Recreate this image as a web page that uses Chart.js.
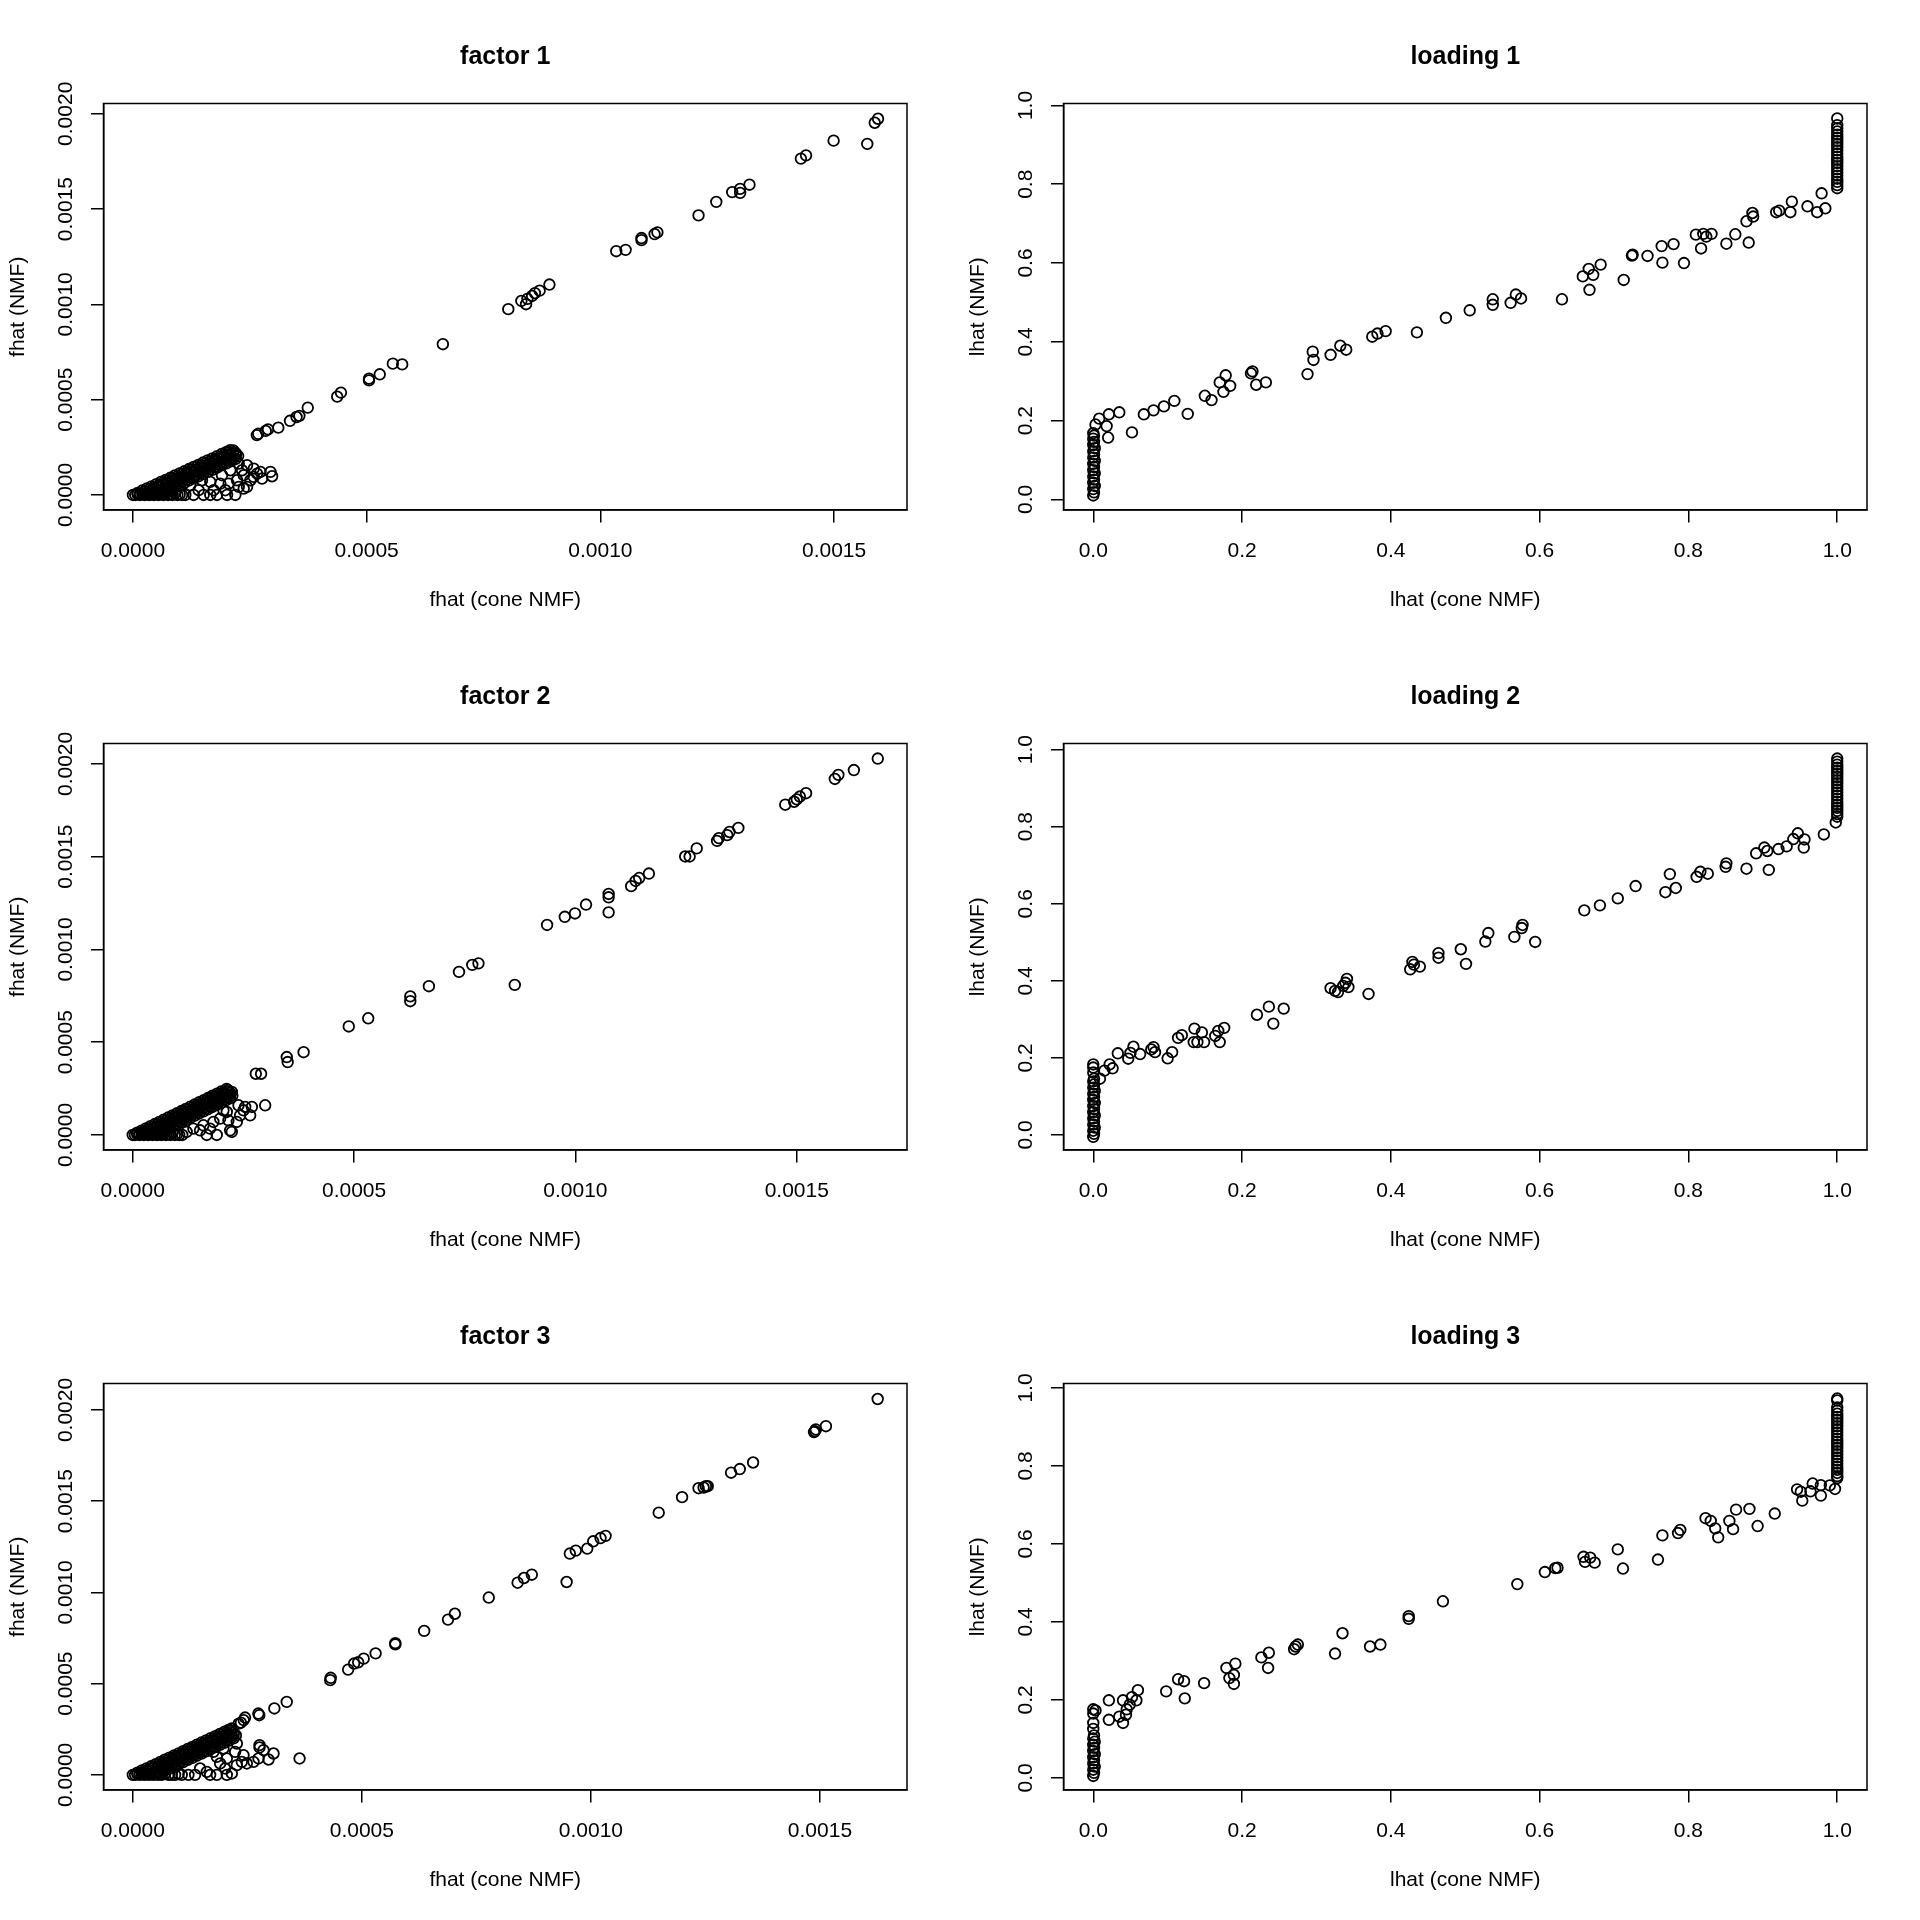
<!DOCTYPE html>
<html>
<head>
<meta charset="utf-8">
<script src="https://cdn.jsdelivr.net/npm/chart.js@4.4.0/dist/chart.umd.min.js"></script>
<style>
  html, body { margin: 0; padding: 0; background: #fff; }
  #wrap { position: relative; width: 1920px; height: 1920px; background: #fff; }
  canvas { position: absolute; }
</style>
</head>
<body>
<div id="wrap">
  <canvas id="c1" width="960" height="640" style="left:0;top:0"></canvas>
  <canvas id="c2" width="960" height="640" style="left:960px;top:0"></canvas>
  <canvas id="c3" width="960" height="640" style="left:0;top:640px"></canvas>
  <canvas id="c4" width="960" height="640" style="left:960px;top:640px"></canvas>
  <canvas id="c5" width="960" height="640" style="left:0;top:1280px"></canvas>
  <canvas id="c6" width="960" height="640" style="left:960px;top:1280px"></canvas>
</div>
<script>
// ---------------- DATA ----------------
const titles = ["factor 1", "loading 1", "factor 2", "loading 2", "factor 3", "loading 3"];
const factorXLabel = "fhat (cone NMF)";
const factorYLabel = "fhat (NMF)";
const loadingXLabel = "lhat (cone NMF)";
const loadingYLabel = "lhat (NMF)";

const factorXTicks = [0, 0.0005, 0.0010, 0.0015];
const factorYTicks = [0, 0.0005, 0.0010, 0.0015, 0.0020];
const loadingTicks = [0, 0.2, 0.4, 0.6, 0.8, 1.0];

const f1XLim = [-6.3e-5, 1.656e-3], f1YLim = [-7.9e-5, 2.054e-3];
const f2XLim = [-6.6e-5, 1.749e-3], f2YLim = [-8.1e-5, 2.110e-3];
const f3XLim = [-6.4e-5, 1.690e-3], f3YLim = [-8.3e-5, 2.145e-3];
const lXLim = [-0.04, 1.04];
const l1YLim = [-0.027, 1.005], l2YLim = [-0.039, 1.016], l3YLim = [-0.031, 1.0115];

// factor 1 : [fhat cone NMF, fhat NMF]
const factor1 = [
  [1.594e-3,1.974e-3],[1.587e-3,1.953e-3],[1.499e-3,1.859e-3],[1.571e-3,1.842e-3],[1.429e-3,1.765e-3],[1.440e-3,1.782e-3],
  [1.319e-3,1.628e-3],[1.299e-3,1.606e-3],[1.299e-3,1.585e-3],[1.282e-3,1.589e-3],[1.248e-3,1.538e-3],[1.210e-3,1.467e-3],
  [1.122e-3,1.378e-3],[1.116e-3,1.369e-3],[1.088e-3,1.348e-3],[1.088e-3,1.337e-3],[1.054e-3,1.286e-3],[1.034e-3,1.279e-3],
  [8.91e-4,1.104e-3],[8.70e-4,1.072e-3],[8.60e-4,1.059e-3],[8.54e-4,1.044e-3],[8.44e-4,1.029e-3],[8.31e-4,1.018e-3],[8.41e-4,1.001e-3],
  [8.03e-4,9.75e-4],[6.63e-4,7.91e-4],[5.76e-4,6.85e-4],[5.56e-4,6.89e-4],[5.28e-4,6.33e-4],[5.05e-4,6.10e-4],[5.05e-4,6.01e-4],
  [4.45e-4,5.37e-4],[4.37e-4,5.16e-4],[3.74e-4,4.58e-4],[3.56e-4,4.15e-4],[3.50e-4,4.09e-4],[3.36e-4,3.89e-4],[3.11e-4,3.53e-4],
  [2.89e-4,3.44e-4],[2.84e-4,3.36e-4],[2.68e-4,3.21e-4],[2.65e-4,3.14e-4],
  [2.263e-4,1.646e-4],[2.441e-4,1.558e-4],[2.584e-4,1.383e-4],[2.727e-4,1.209e-4],[2.942e-4,1.209e-4],[2.977e-4,9.81e-5],
  [2.763e-4,8.59e-5],[2.584e-4,9.46e-5],[2.370e-4,1.034e-4],[2.084e-4,1.296e-4],[1.905e-4,1.034e-4],[1.870e-4,5.96e-5],
  [2.048e-4,5.96e-5],[2.227e-4,7.71e-5],[2.370e-4,3.34e-5],[2.191e-4,0],[2.013e-4,0],[1.798e-4,0],[1.655e-4,0],[1.512e-4,0],
  [1.405e-4,2.47e-5],[1.298e-4,0],[1.226e-4,5.09e-5],[1.477e-4,7.71e-5],[1.655e-4,6.84e-5],[2.513e-4,7.71e-5],[2.441e-4,4.21e-5],
  [2.656e-4,1.121e-4],[2.334e-4,1.296e-4],[1.977e-4,2.47e-5],[1.727e-4,2.47e-5],[2.263e-4,4.21e-5],
  [0,0],[1e-5,1.1e-5],[2e-5,2.3e-5],[3e-5,3.4e-5],[4e-5,4.5e-5],[5e-5,5.7e-5],[6e-5,6.8e-5],[7e-5,7.9e-5],[8e-5,9.0e-5],[9e-5,1.02e-4],
  [1.0e-4,1.13e-4],[1.1e-4,1.24e-4],[1.2e-4,1.36e-4],[1.3e-4,1.47e-4],[1.4e-4,1.58e-4],[1.5e-4,1.70e-4],[1.6e-4,1.81e-4],[1.7e-4,1.92e-4],
  [1.8e-4,2.03e-4],[1.9e-4,2.15e-4],[2.0e-4,2.26e-4],[2.08e-4,2.35e-4],
  [1.5e-5,0.7e-5],[2.5e-5,1.8e-5],[3.5e-5,3.0e-5],[4.5e-5,4.1e-5],[5.5e-5,5.2e-5],[6.5e-5,6.3e-5],[7.5e-5,7.5e-5],[8.5e-5,8.6e-5],
  [9.5e-5,9.7e-5],[1.05e-4,1.09e-4],[1.15e-4,1.20e-4],[1.25e-4,1.31e-4],[1.35e-4,1.43e-4],[1.45e-4,1.54e-4],[1.55e-4,1.65e-4],
  [1.65e-4,1.76e-4],[1.75e-4,1.88e-4],[1.85e-4,1.99e-4],[1.95e-4,2.10e-4],[2.05e-4,2.22e-4],[2.15e-4,2.33e-4],
  [2.5e-5,0.8e-5],[3.5e-5,2.0e-5],[4.5e-5,3.1e-5],[5.5e-5,4.2e-5],[6.5e-5,5.3e-5],[7.5e-5,6.5e-5],[8.5e-5,7.6e-5],[9.5e-5,8.7e-5],
  [1.05e-4,9.9e-5],[1.15e-4,1.10e-4],[1.25e-4,1.21e-4],[1.35e-4,1.33e-4],[1.45e-4,1.44e-4],[1.55e-4,1.55e-4],[1.65e-4,1.66e-4],
  [1.75e-4,1.78e-4],[1.85e-4,1.89e-4],[1.95e-4,2.00e-4],[2.05e-4,2.12e-4],[2.15e-4,2.23e-4],
  [3e-5,0.4e-5],[4e-5,1.5e-5],[5e-5,2.7e-5],[6e-5,3.8e-5],[7e-5,4.9e-5],[8e-5,6.0e-5],[9e-5,7.2e-5],[1.0e-4,8.3e-5],[1.1e-4,9.4e-5],
  [1.2e-4,1.06e-4],[1.3e-4,1.17e-4],[1.4e-4,1.28e-4],[1.5e-4,1.40e-4],[1.6e-4,1.51e-4],[1.7e-4,1.62e-4],[1.8e-4,1.73e-4],[1.9e-4,1.85e-4],
  [2.0e-4,1.96e-4],[2.1e-4,2.07e-4],[2.2e-4,2.19e-4],
  [4e-5,0.5e-5],[5e-5,1.7e-5],[6e-5,2.8e-5],[7e-5,3.9e-5],[8e-5,5.0e-5],[9e-5,6.2e-5],[1.0e-4,7.3e-5],[1.1e-4,8.4e-5],[1.2e-4,9.6e-5],
  [1.3e-4,1.07e-4],[1.4e-4,1.18e-4],[1.5e-4,1.30e-4],[1.6e-4,1.41e-4],[1.7e-4,1.52e-4],[1.8e-4,1.63e-4],[1.9e-4,1.75e-4],[2.0e-4,1.86e-4],
  [2.1e-4,1.97e-4],[2.2e-4,2.09e-4],
  [5.5e-5,1.2e-5],[6.5e-5,2.3e-5],[7.5e-5,3.5e-5],[8.5e-5,4.6e-5],[9.5e-5,5.7e-5],[1.05e-4,6.9e-5],[1.15e-4,8.0e-5],[1.25e-4,9.1e-5],
  [1.35e-4,1.03e-4],[1.45e-4,1.14e-4],[1.55e-4,1.25e-4],[1.65e-4,1.36e-4],[1.75e-4,1.48e-4],[1.85e-4,1.59e-4],[1.95e-4,1.70e-4],
  [2.05e-4,1.82e-4],[2.15e-4,1.93e-4],[2.25e-4,2.04e-4],
  [6e-5,0.8e-5],[7e-5,1.9e-5],[8e-5,3.0e-5],[9e-5,4.2e-5],[1.0e-4,5.3e-5],[1.1e-4,6.4e-5],[1.2e-4,7.6e-5],[1.3e-4,8.7e-5],[1.4e-4,9.8e-5],
  [1.5e-4,1.09e-4],[1.6e-4,1.21e-4],[1.7e-4,1.32e-4],[1.8e-4,1.43e-4],[1.9e-4,1.55e-4],[2.0e-4,1.66e-4],[2.1e-4,1.77e-4],[2.2e-4,1.89e-4],
  [0.5e-5,0],[1.5e-5,0],[2.5e-5,0],[3.5e-5,0],[4.5e-5,0],[5.5e-5,0],[6.5e-5,0],[7.5e-5,0],[8.5e-5,0],[9.5e-5,0],[1.05e-4,0],[1.12e-4,0],
  [1e-5,0.4e-5],[2e-5,0.4e-5],[3e-5,0.4e-5],[4e-5,0.4e-5],[5e-5,0.4e-5],[6e-5,0.4e-5],[7e-5,0.6e-5],[8e-5,0.4e-5],[9e-5,1.0e-5],[1.0e-4,0.4e-5]
];

// factor 2
const factor2 = [
  [1.683e-3,2.029e-3],[1.629e-3,1.967e-3],[1.594e-3,1.941e-3],[1.586e-3,1.919e-3],[1.521e-3,1.842e-3],[1.507e-3,1.824e-3],
  [1.500e-3,1.809e-3],[1.494e-3,1.796e-3],[1.474e-3,1.780e-3],[1.368e-3,1.655e-3],[1.348e-3,1.633e-3],[1.343e-3,1.616e-3],
  [1.324e-3,1.600e-3],[1.320e-3,1.585e-3],[1.274e-3,1.545e-3],[1.258e-3,1.501e-3],[1.248e-3,1.501e-3],[1.166e-3,1.409e-3],
  [1.144e-3,1.385e-3],[1.136e-3,1.369e-3],[1.126e-3,1.341e-3],[1.075e-3,1.299e-3],[1.075e-3,1.281e-3],[1.075e-3,1.200e-3],
  [1.024e-3,1.242e-3],[9.99e-4,1.194e-3],[9.76e-4,1.176e-3],[9.36e-4,1.132e-3],[8.63e-4,8.09e-4],[7.81e-4,9.25e-4],[7.67e-4,9.17e-4],
  [7.37e-4,8.79e-4],[6.69e-4,8.02e-4],[6.27e-4,7.47e-4],[6.27e-4,7.21e-4],[5.32e-4,6.29e-4],[4.88e-4,5.85e-4],[3.86e-4,4.46e-4],
  [3.50e-4,3.93e-4],[3.48e-4,4.20e-4],[2.78e-4,3.30e-4],[2.90e-4,3.30e-4],
  [2.389e-4,1.601e-4],[2.540e-4,1.511e-4],[2.691e-4,1.511e-4],[2.992e-4,1.601e-4],[2.653e-4,1.062e-4],[2.426e-4,1.062e-4],
  [2.351e-4,7.02e-5],[2.162e-4,7.92e-5],[2.200e-4,2.53e-5],[2.238e-4,1.63e-5],[1.898e-4,0],[1.672e-4,0],[1.747e-4,3.43e-5],
  [1.974e-4,8.82e-5],[1.521e-4,2.53e-5],[1.370e-4,3.43e-5],[2.049e-4,1.331e-4],[2.502e-4,1.331e-4],[2.125e-4,1.241e-4],
  [2.238e-4,2.319e-4],[1.823e-4,7.02e-5],[1.596e-4,5.23e-5],[1.219e-4,1.63e-5],
  [0,0],[1e-5,1.2e-5],[2e-5,2.3e-5],[3e-5,3.5e-5],[4e-5,4.7e-5],[5e-5,5.9e-5],[6e-5,7.0e-5],[7e-5,8.2e-5],[8e-5,9.4e-5],[9e-5,1.05e-4],
  [1.0e-4,1.17e-4],[1.1e-4,1.29e-4],[1.2e-4,1.40e-4],[1.3e-4,1.52e-4],[1.4e-4,1.64e-4],[1.5e-4,1.76e-4],[1.6e-4,1.87e-4],[1.7e-4,1.99e-4],
  [1.8e-4,2.11e-4],[1.9e-4,2.22e-4],[2.0e-4,2.34e-4],[2.12e-4,2.48e-4],
  [1.5e-5,0.8e-5],[2.5e-5,1.9e-5],[3.5e-5,3.1e-5],[4.5e-5,4.3e-5],[5.5e-5,5.4e-5],[6.5e-5,6.6e-5],[7.5e-5,7.8e-5],[8.5e-5,8.9e-5],
  [9.5e-5,1.01e-4],[1.05e-4,1.13e-4],[1.15e-4,1.25e-4],[1.25e-4,1.36e-4],[1.35e-4,1.48e-4],[1.45e-4,1.60e-4],[1.55e-4,1.71e-4],
  [1.65e-4,1.83e-4],[1.75e-4,1.95e-4],[1.85e-4,2.06e-4],[1.95e-4,2.18e-4],[2.05e-4,2.30e-4],[2.15e-4,2.42e-4],
  [2.5e-5,0.9e-5],[3.5e-5,2.1e-5],[4.5e-5,3.3e-5],[5.5e-5,4.4e-5],[6.5e-5,5.6e-5],[7.5e-5,6.8e-5],[8.5e-5,7.9e-5],[9.5e-5,9.1e-5],
  [1.05e-4,1.03e-4],[1.15e-4,1.15e-4],[1.25e-4,1.26e-4],[1.35e-4,1.38e-4],[1.45e-4,1.50e-4],[1.55e-4,1.61e-4],[1.65e-4,1.73e-4],
  [1.75e-4,1.85e-4],[1.85e-4,1.96e-4],[1.95e-4,2.08e-4],[2.05e-4,2.20e-4],[2.15e-4,2.32e-4],
  [3e-5,0.5e-5],[4e-5,1.7e-5],[5e-5,2.9e-5],[6e-5,4.0e-5],[7e-5,5.2e-5],[8e-5,6.4e-5],[9e-5,7.5e-5],[1.0e-4,8.7e-5],[1.1e-4,9.9e-5],
  [1.2e-4,1.10e-4],[1.3e-4,1.22e-4],[1.4e-4,1.34e-4],[1.5e-4,1.46e-4],[1.6e-4,1.57e-4],[1.7e-4,1.69e-4],[1.8e-4,1.81e-4],[1.9e-4,1.92e-4],
  [2.0e-4,2.04e-4],[2.1e-4,2.16e-4],[2.2e-4,2.27e-4],
  [4e-5,0.7e-5],[5e-5,1.9e-5],[6e-5,3.0e-5],[7e-5,4.2e-5],[8e-5,5.4e-5],[9e-5,6.5e-5],[1.0e-4,7.7e-5],[1.1e-4,8.9e-5],[1.2e-4,1.00e-4],
  [1.3e-4,1.12e-4],[1.4e-4,1.24e-4],[1.5e-4,1.36e-4],[1.6e-4,1.47e-4],[1.7e-4,1.59e-4],[1.8e-4,1.71e-4],[1.9e-4,1.82e-4],[2.0e-4,1.94e-4],
  [2.1e-4,2.06e-4],[2.2e-4,2.17e-4],
  [5.5e-5,1.4e-5],[6.5e-5,2.6e-5],[7.5e-5,3.8e-5],[8.5e-5,4.9e-5],[9.5e-5,6.1e-5],[1.05e-4,7.3e-5],[1.15e-4,8.5e-5],[1.25e-4,9.6e-5],
  [1.35e-4,1.08e-4],[1.45e-4,1.20e-4],[1.55e-4,1.31e-4],[1.65e-4,1.43e-4],[1.75e-4,1.55e-4],[1.85e-4,1.66e-4],[1.95e-4,1.78e-4],
  [2.05e-4,1.90e-4],[2.15e-4,2.02e-4],[2.25e-4,2.13e-4],
  [6e-5,1.0e-5],[7e-5,2.2e-5],[8e-5,3.4e-5],[9e-5,4.5e-5],[1.0e-4,5.7e-5],[1.1e-4,6.9e-5],[1.2e-4,8.0e-5],[1.3e-4,9.2e-5],[1.4e-4,1.04e-4],
  [1.5e-4,1.16e-4],[1.6e-4,1.27e-4],[1.7e-4,1.39e-4],[1.8e-4,1.51e-4],[1.9e-4,1.62e-4],[2.0e-4,1.74e-4],[2.1e-4,1.86e-4],[2.2e-4,1.97e-4],
  [0.5e-5,0],[1.5e-5,0],[2.5e-5,0],[3.5e-5,0],[4.5e-5,0],[5.5e-5,0],[6.5e-5,0],[7.5e-5,0],[8.5e-5,0],[9.5e-5,0],[1.05e-4,0],[1.12e-4,0],
  [1e-5,0.4e-5],[2e-5,0.4e-5],[3e-5,0.4e-5],[4e-5,0.4e-5],[5e-5,0.4e-5],[6e-5,0.4e-5],[7e-5,0.6e-5],[8e-5,0.4e-5],[9e-5,1.0e-5],[1.0e-4,0.4e-5]
];

// factor 3
const factor3 = [
  [1.626e-3,2.060e-3],[1.513e-3,1.911e-3],[1.491e-3,1.893e-3],[1.487e-3,1.879e-3],[1.489e-3,1.884e-3],[1.354e-3,1.712e-3],
  [1.325e-3,1.676e-3],[1.306e-3,1.656e-3],[1.255e-3,1.582e-3],[1.251e-3,1.582e-3],[1.246e-3,1.575e-3],[1.235e-3,1.571e-3],
  [1.199e-3,1.522e-3],[1.148e-3,1.437e-3],[1.032e-3,1.310e-3],[1.021e-3,1.298e-3],[1.005e-3,1.280e-3],[9.92e-4,1.240e-3],
  [9.67e-4,1.229e-3],[9.54e-4,1.213e-3],[9.47e-4,1.057e-3],[8.71e-4,1.097e-3],[8.54e-4,1.079e-3],[8.40e-4,1.053e-3],
  [7.77e-4,9.72e-4],[7.03e-4,8.83e-4],[6.88e-4,8.51e-4],[6.36e-4,7.89e-4],[5.73e-4,7.22e-4],[5.73e-4,7.15e-4],[5.30e-4,6.66e-4],
  [5.04e-4,6.37e-4],[4.92e-4,6.17e-4],[4.83e-4,6.10e-4],[4.70e-4,5.77e-4],[4.32e-4,5.32e-4],[4.31e-4,5.19e-4],[3.36e-4,4.00e-4],
  [3.09e-4,3.64e-4],[2.76e-4,3.27e-4],[2.74e-4,3.36e-4],[2.45e-4,3.14e-4],[2.42e-4,3.00e-4],[2.31e-4,2.81e-4],[2.36e-4,2.86e-4],
  [2.766e-4,1.627e-4],[2.853e-4,1.353e-4],[3.072e-4,1.171e-4],[2.963e-4,8.42e-5],[2.744e-4,8.97e-5],[2.635e-4,7.14e-5],
  [2.489e-4,6.23e-5],[2.380e-4,7.14e-5],[2.271e-4,5.31e-5],[2.271e-4,1.719e-4],[2.234e-4,1.262e-4],[2.052e-4,8.97e-5],
  [1.833e-4,9.88e-5],[1.906e-4,6.23e-5],[2.016e-4,3.49e-5],[2.161e-4,7.5e-6],[2.052e-4,0],[1.833e-4,0],[1.688e-4,0],
  [1.615e-4,1.66e-5],[1.469e-4,3.49e-5],[1.360e-4,0],[1.214e-4,0],[1.068e-4,0],[9.22e-5,0],[7.77e-5,0],[6.31e-5,0],
  [3.640e-4,8.97e-5],[2.416e-4,1.079e-4],[1.760e-4,1.262e-4],[1.979e-4,1.445e-4],[2.766e-4,1.50e-4],
  [0,0],[1e-5,1.2e-5],[2e-5,2.4e-5],[3e-5,3.5e-5],[4e-5,4.7e-5],[5e-5,5.9e-5],[6e-5,7.1e-5],[7e-5,8.3e-5],[8e-5,9.4e-5],[9e-5,1.06e-4],
  [1.0e-4,1.18e-4],[1.1e-4,1.30e-4],[1.2e-4,1.42e-4],[1.3e-4,1.53e-4],[1.4e-4,1.65e-4],[1.5e-4,1.77e-4],[1.6e-4,1.89e-4],[1.7e-4,2.01e-4],
  [1.8e-4,2.12e-4],[1.9e-4,2.24e-4],[2.0e-4,2.36e-4],[2.1e-4,2.48e-4],[2.16e-4,2.54e-4],
  [1.5e-5,0.8e-5],[2.5e-5,2.0e-5],[3.5e-5,3.1e-5],[4.5e-5,4.3e-5],[5.5e-5,5.5e-5],[6.5e-5,6.7e-5],[7.5e-5,7.9e-5],[8.5e-5,9.0e-5],
  [9.5e-5,1.02e-4],[1.05e-4,1.14e-4],[1.15e-4,1.26e-4],[1.25e-4,1.38e-4],[1.35e-4,1.49e-4],[1.45e-4,1.61e-4],[1.55e-4,1.73e-4],
  [1.65e-4,1.85e-4],[1.75e-4,1.97e-4],[1.85e-4,2.08e-4],[1.95e-4,2.20e-4],[2.05e-4,2.32e-4],[2.15e-4,2.44e-4],
  [2.5e-5,1.0e-5],[3.5e-5,2.1e-5],[4.5e-5,3.3e-5],[5.5e-5,4.5e-5],[6.5e-5,5.7e-5],[7.5e-5,6.9e-5],[8.5e-5,8.0e-5],[9.5e-5,9.2e-5],
  [1.05e-4,1.04e-4],[1.15e-4,1.16e-4],[1.25e-4,1.28e-4],[1.35e-4,1.39e-4],[1.45e-4,1.51e-4],[1.55e-4,1.63e-4],[1.65e-4,1.75e-4],
  [1.75e-4,1.87e-4],[1.85e-4,1.98e-4],[1.95e-4,2.10e-4],[2.05e-4,2.22e-4],[2.15e-4,2.34e-4],
  [3e-5,0.5e-5],[4e-5,1.7e-5],[5e-5,2.9e-5],[6e-5,4.1e-5],[7e-5,5.3e-5],[8e-5,6.4e-5],[9e-5,7.6e-5],[1.0e-4,8.8e-5],[1.1e-4,1.00e-4],
  [1.2e-4,1.12e-4],[1.3e-4,1.23e-4],[1.4e-4,1.35e-4],[1.5e-4,1.47e-4],[1.6e-4,1.59e-4],[1.7e-4,1.71e-4],[1.8e-4,1.82e-4],[1.9e-4,1.94e-4],
  [2.0e-4,2.06e-4],[2.1e-4,2.18e-4],[2.2e-4,2.30e-4],
  [4e-5,0.7e-5],[5e-5,1.9e-5],[6e-5,3.1e-5],[7e-5,4.3e-5],[8e-5,5.4e-5],[9e-5,6.6e-5],[1.0e-4,7.8e-5],[1.1e-4,9.0e-5],[1.2e-4,1.02e-4],
  [1.3e-4,1.13e-4],[1.4e-4,1.25e-4],[1.5e-4,1.37e-4],[1.6e-4,1.49e-4],[1.7e-4,1.61e-4],[1.8e-4,1.72e-4],[1.9e-4,1.84e-4],[2.0e-4,1.96e-4],
  [2.1e-4,2.08e-4],[2.2e-4,2.20e-4],
  [5.5e-5,1.5e-5],[6.5e-5,2.7e-5],[7.5e-5,3.9e-5],[8.5e-5,5.0e-5],[9.5e-5,6.2e-5],[1.05e-4,7.4e-5],[1.15e-4,8.6e-5],[1.25e-4,9.8e-5],
  [1.35e-4,1.09e-4],[1.45e-4,1.21e-4],[1.55e-4,1.33e-4],[1.65e-4,1.45e-4],[1.75e-4,1.57e-4],[1.85e-4,1.68e-4],[1.95e-4,1.80e-4],
  [2.05e-4,1.92e-4],[2.15e-4,2.04e-4],[2.25e-4,2.16e-4],
  [6e-5,1.1e-5],[7e-5,2.3e-5],[8e-5,3.4e-5],[9e-5,4.6e-5],[1.0e-4,5.8e-5],[1.1e-4,7.0e-5],[1.2e-4,8.2e-5],[1.3e-4,9.3e-5],[1.4e-4,1.05e-4],
  [1.5e-4,1.17e-4],[1.6e-4,1.29e-4],[1.7e-4,1.41e-4],[1.8e-4,1.52e-4],[1.9e-4,1.64e-4],[2.0e-4,1.76e-4],[2.1e-4,1.88e-4],[2.2e-4,2.00e-4],
  [0.5e-5,0],[1.5e-5,0],[2.5e-5,0],[3.5e-5,0],[4.5e-5,0],[5.5e-5,0],[7e-5,0.6e-5],[8.5e-5,0],[1.0e-4,0.5e-5],
  [1e-5,0.4e-5],[2e-5,0.4e-5],[3e-5,0.4e-5],[4e-5,0.4e-5],[5e-5,0.4e-5],[6e-5,0.4e-5],[8e-5,0.4e-5]
];

// loading 1 : [lhat cone NMF, lhat NMF]
const loading1 = [
  [0,0.010],[0.001,0.018],[0,0.026],[0.002,0.034],[0,0.042],[0.001,0.050],[0,0.058],[0.002,0.066],[0,0.074],[0.001,0.082],
  [0,0.090],[0.002,0.098],[0,0.106],[0.001,0.114],[0,0.122],[0.002,0.130],[0,0.138],[0.001,0.146],[0,0.154],[0.001,0.162],[0,0.168],
  [1,0.967],[1,0.950],[1,0.942],[1,0.934],[1,0.926],[1,0.918],[1,0.910],[1,0.902],[1,0.894],[1,0.886],[1,0.878],[1,0.870],
  [1,0.862],[1,0.854],[1,0.846],[1,0.838],[1,0.830],[1,0.822],[1,0.814],[1,0.806],[1,0.798],[1,0.790],
  [0.979,0.777],[0.984,0.739],[0.973,0.729],[0.960,0.744],[0.939,0.756],[0.937,0.729],[0.922,0.733],[0.918,0.729],[0.886,0.727],
  [0.887,0.718],[0.878,0.706],[0.881,0.652],[0.863,0.673],[0.851,0.649],[0.831,0.674],[0.824,0.667],[0.820,0.674],[0.810,0.672],
  [0.817,0.637],[0.794,0.600],[0.780,0.648],[0.764,0.643],[0.765,0.601],[0.745,0.618],[0.725,0.621],[0.724,0.619],[0.713,0.557],
  [0.682,0.596],[0.672,0.570],[0.666,0.585],[0.658,0.566],[0.667,0.532],[0.630,0.508],[0.575,0.510],[0.568,0.520],[0.561,0.499],
  [0.537,0.508],[0.537,0.494],[0.506,0.480],[0.474,0.461],[0.435,0.424],[0.393,0.427],[0.382,0.421],[0.375,0.413],[0.340,0.380],
  [0.332,0.390],[0.319,0.367],[0.295,0.375],[0.296,0.354],[0.288,0.318],[0.232,0.297],[0.219,0.291],[0.214,0.325],[0.212,0.320],
  [0.184,0.288],[0.178,0.315],[0.170,0.297],[0.175,0.273],[0.159,0.252],[0.150,0.263],[0.127,0.217],[0.109,0.250],[0.095,0.236],
  [0.081,0.226],[0.068,0.216],[0.052,0.170],[0.035,0.221],[0.021,0.216],[0.020,0.157],[0.018,0.186],[0.008,0.205],[0.003,0.190]
];

// loading 2
const loading2 = [
  [0,-0.005],[0.001,0.003],[0,0.011],[0.002,0.019],[0,0.027],[0.001,0.035],[0,0.043],[0.002,0.051],[0,0.059],[0.001,0.067],
  [0,0.075],[0.002,0.083],[0,0.091],[0.001,0.099],[0,0.107],[0.002,0.115],[0,0.123],[0.001,0.131],[0,0.139],[0.001,0.146],
  [0,0.162],[0,0.175],[0,0.183],
  [1,0.977],[1,0.969],[1,0.961],[1,0.953],[1,0.945],[1,0.937],[1,0.929],[1,0.921],[1,0.913],[1,0.905],[1,0.897],[1,0.889],
  [1,0.881],[1,0.873],[1,0.865],[1,0.857],[1,0.849],[1,0.841],[1,0.833],[1,0.826],[0.998,0.811],
  [0.982,0.780],[0.956,0.767],[0.955,0.746],[0.947,0.783],[0.941,0.768],[0.932,0.749],[0.921,0.742],[0.906,0.737],[0.902,0.746],
  [0.891,0.731],[0.908,0.688],[0.878,0.691],[0.851,0.705],[0.850,0.696],[0.826,0.678],[0.816,0.683],[0.811,0.670],[0.783,0.641],
  [0.775,0.677],[0.769,0.630],[0.729,0.646],[0.705,0.614],[0.681,0.596],[0.660,0.583],[0.594,0.501],[0.577,0.545],[0.576,0.537],
  [0.566,0.514],[0.531,0.524],[0.527,0.502],[0.501,0.444],[0.494,0.482],[0.464,0.472],[0.464,0.460],[0.439,0.437],[0.431,0.442],
  [0.426,0.430],[0.429,0.449],[0.370,0.366],[0.343,0.384],[0.339,0.395],[0.341,0.405],[0.336,0.387],[0.329,0.371],[0.325,0.374],
  [0.319,0.381],[0.256,0.328],[0.242,0.289],[0.236,0.333],[0.220,0.312],[0.176,0.278],[0.168,0.270],[0.164,0.257],[0.170,0.241],
  [0.149,0.241],[0.146,0.266],[0.140,0.241],[0.136,0.276],[0.135,0.241],[0.119,0.259],[0.114,0.252],[0.106,0.215],[0.100,0.199],
  [0.083,0.215],[0.081,0.228],[0.078,0.222],[0.063,0.210],[0.054,0.229],[0.050,0.213],[0.047,0.198],[0.033,0.212],[0.026,0.173],
  [0.022,0.183],[0.015,0.167],[0.009,0.146]
];

// loading 3
const loading3 = [
  [0,0.005],[0.001,0.013],[0,0.021],[0.002,0.029],[0,0.037],[0.001,0.045],[0,0.053],[0.002,0.061],[0,0.069],[0.001,0.077],
  [0,0.085],[0.002,0.093],[0,0.101],[0.001,0.109],[0,0.1255],[0,0.141],[0,0.165],[0.003,0.173],[0,0.176],
  [1,0.973],[1,0.968],[1,0.950],[1,0.942],[1,0.934],[1,0.926],[1,0.918],[1,0.910],[1,0.902],[1,0.894],[1,0.886],[1,0.878],
  [1,0.870],[1,0.862],[1,0.854],[1,0.846],[1,0.838],[1,0.830],[1,0.822],[1,0.814],[1,0.806],[1,0.798],[1,0.790],[1,0.782],
  [1,0.774],[1,0.769],
  [0.997,0.741],[0.990,0.750],[0.978,0.724],[0.978,0.751],[0.967,0.755],[0.964,0.735],[0.951,0.734],[0.953,0.711],[0.946,0.740],
  [0.916,0.678],[0.893,0.646],[0.882,0.690],[0.864,0.688],[0.860,0.638],[0.855,0.659],[0.840,0.617],[0.836,0.640],[0.830,0.659],
  [0.823,0.666],[0.789,0.636],[0.786,0.628],[0.765,0.622],[0.759,0.560],[0.712,0.537],[0.705,0.586],[0.674,0.552],[0.668,0.565],
  [0.659,0.567],[0.661,0.554],[0.624,0.539],[0.621,0.538],[0.607,0.528],[0.570,0.497],[0.470,0.453],[0.424,0.415],[0.424,0.408],
  [0.386,0.342],[0.372,0.337],[0.335,0.371],[0.325,0.319],[0.275,0.342],[0.272,0.337],[0.270,0.330],[0.236,0.321],[0.235,0.282],
  [0.226,0.309],[0.191,0.293],[0.189,0.264],[0.189,0.241],[0.183,0.256],[0.179,0.282],[0.149,0.243],[0.123,0.204],[0.122,0.248],
  [0.114,0.253],[0.098,0.222],[0.060,0.225],[0.058,0.199],[0.052,0.207],[0.049,0.188],[0.045,0.176],[0.044,0.162],[0.040,0.199],
  [0.040,0.141],[0.035,0.157],[0.021,0.199],[0.021,0.149]
];

// ---------------- DRAWING ----------------
const FONT = '"Liberation Sans", Arial, Helvetica, sans-serif';
const BOX = { left: 103.5, right: 907, top: 103.5, bottom: 510 };

const rPlot = {
  id: 'rplot',
  afterDraw(chart, args, o) {
    const { ctx, chartArea: a } = chart;
    const xs = chart.scales.x, ys = chart.scales.y;
    ctx.save();
    ctx.strokeStyle = '#000';
    ctx.lineWidth = 1.5;
    ctx.strokeRect(a.left, a.top, a.right - a.left, a.bottom - a.top);
    ctx.fillStyle = '#000';
    ctx.font = '21px ' + FONT;
    ctx.textAlign = 'center';
    ctx.textBaseline = 'alphabetic';
    xs.ticks.forEach(t => ctx.fillText(t.value.toFixed(o.dec), xs.getPixelForValue(t.value), 557));
    ys.ticks.forEach(t => {
      ctx.save();
      ctx.translate(71.5, ys.getPixelForValue(t.value));
      ctx.rotate(-Math.PI / 2);
      ctx.fillText(t.value.toFixed(o.dec), 0, 0);
      ctx.restore();
    });
    ctx.fillText(o.xlabel, (a.left + a.right) / 2, 605.5);
    ctx.save();
    ctx.translate(24, (a.top + a.bottom) / 2);
    ctx.rotate(-Math.PI / 2);
    ctx.fillText(o.ylabel, 0, 0);
    ctx.restore();
    ctx.font = 'bold 25px ' + FONT;
    ctx.fillText(o.title, (a.left + a.right) / 2, 63.5);
    ctx.restore();
  }
};

function axis(lim, ticks, fitFn) {
  return {
    type: 'linear',
    min: lim[0], max: lim[1],
    afterBuildTicks: s => { s.ticks = ticks.map(v => ({ value: v })); },
    afterFit: fitFn,
    ticks: { display: false },
    grid: { display: true, drawOnChartArea: false, drawTicks: true, tickLength: 12.5, color: '#000', lineWidth: 1.5 },
    border: { display: true, color: '#000', width: 1.5 },
    title: { display: false }
  };
}

function makePlot(id, pts, xlim, ylim, xticks, yticks, dec, title, xlabel, ylabel) {
  new Chart(document.getElementById(id), {
    type: 'scatter',
    data: {
      datasets: [{
        data: pts.map(p => ({ x: p[0], y: p[1] })),
        pointStyle: 'circle',
        pointRadius: 5.3,
        pointHoverRadius: 5.3,
        pointBorderWidth: 1.8,
        pointBorderColor: '#000',
        pointBackgroundColor: 'rgba(0,0,0,0)',
        showLine: false
      }]
    },
    options: {
      responsive: false,
      animation: false,
      events: [],
      layout: { padding: { left: 0, top: BOX.top, right: 960 - BOX.right, bottom: 0 } },
      plugins: {
        legend: { display: false },
        tooltip: { enabled: false },
        title: { display: false },
        rplot: { dec: dec, title: title, xlabel: xlabel, ylabel: ylabel }
      },
      scales: {
        x: axis(xlim, xticks, s => { s.height = 640 - BOX.bottom; }),
        y: axis(ylim, yticks, s => { s.width = BOX.left; })
      }
    },
    plugins: [rPlot]
  });
}

makePlot('c1', factor1, f1XLim, f1YLim, factorXTicks, factorYTicks, 4, titles[0], factorXLabel, factorYLabel);
makePlot('c2', loading1, lXLim, l1YLim, loadingTicks, loadingTicks, 1, titles[1], loadingXLabel, loadingYLabel);
makePlot('c3', factor2, f2XLim, f2YLim, factorXTicks, factorYTicks, 4, titles[2], factorXLabel, factorYLabel);
makePlot('c4', loading2, lXLim, l2YLim, loadingTicks, loadingTicks, 1, titles[3], loadingXLabel, loadingYLabel);
makePlot('c5', factor3, f3XLim, f3YLim, factorXTicks, factorYTicks, 4, titles[4], factorXLabel, factorYLabel);
makePlot('c6', loading3, lXLim, l3YLim, loadingTicks, loadingTicks, 1, titles[5], loadingXLabel, loadingYLabel);
</script>
</body>
</html>
